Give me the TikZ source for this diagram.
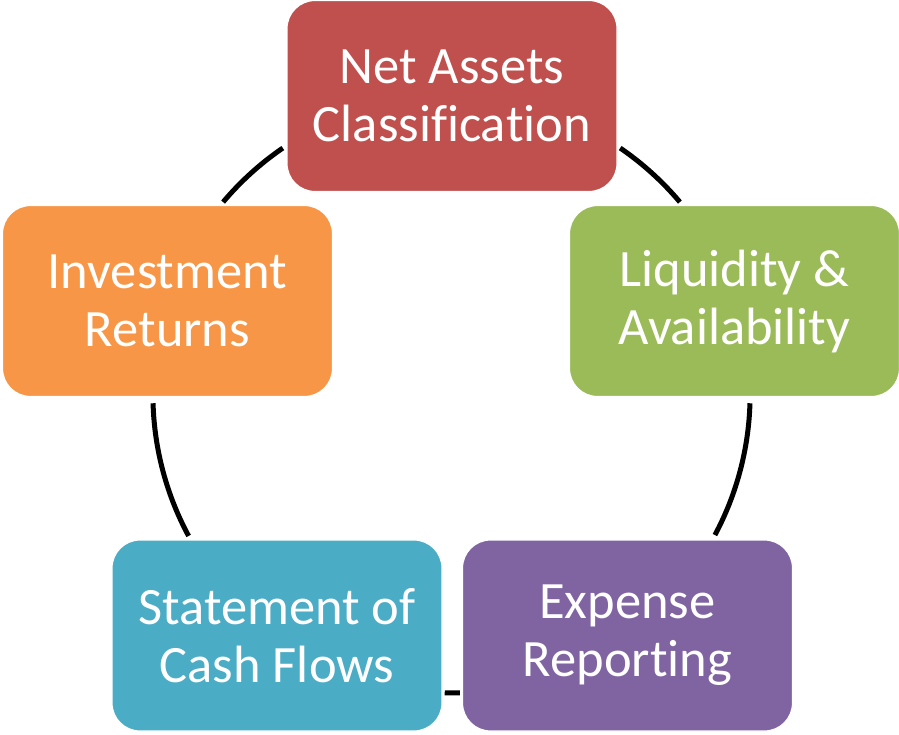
\documentclass[tikz,border=0pt]{standalone}
\usepackage{fontspec}
\setmainfont{Carlito}[Ligatures={CommonOff,RareOff}]
\definecolor{cRed}{RGB}{192,80,77}
\definecolor{cGreen}{RGB}{155,187,89}
\definecolor{cPurple}{RGB}{128,100,162}
\definecolor{cBlue}{RGB}{75,172,198}
\definecolor{cOrange}{RGB}{247,150,70}
\newcommand{\nolig}{\kern0pt\relax}
\begin{document}
\begin{tikzpicture}[x=1pt,y=-1pt,
  box/.style={draw=white, line width=1.2pt, rounded corners=28pt,
    minimum width=330pt, minimum height=191pt, text=white, align=center,
    font=\fontsize{52.5}{58}\selectfont, inner sep=0pt},
  ring/.style={line width=5pt, black}]
\useasboundingbox (0,0) rectangle (899,734);
\coordinate (ctr) at (451.5,394.4);
% ring segments between the boxes
\draw[ring] (ctr) ++(220.1:298.6) arc[start angle=220.1, end angle=235.6, radius=298.6];
\draw[ring] (ctr) ++(304.4:298.6) arc[start angle=304.4, end angle=319.9, radius=298.6];
\draw[ring] (ctr) ++(1.7:298.6) arc[start angle=1.7, end angle=28.1, radius=298.6];
\draw[ring] (ctr) ++(88.4:298.6) arc[start angle=88.4, end angle=91.3, radius=298.6];
\draw[ring] (ctr) ++(151.7:298.6) arc[start angle=151.7, end angle=178.3, radius=298.6];
% boxes
\node[box, fill=cRed] (net) at (452,96) {Net Assets\\Classif\nolig ica\nolig t\nolig ion};
\node[box, fill=cGreen] (liq) at (734.5,301) {Liquidity \&\\Availability};
\node[box, fill=cPurple] (exp) at (627.5,635.5) {Expense\\Report\nolig ing};
\node[box, fill=cBlue] (cash) at (277,635.5) {Statement of\\Cash Flows};
\node[box, fill=cOrange] (inv) at (167.5,301) {Investment\\Returns};
\end{tikzpicture}
\end{document}
